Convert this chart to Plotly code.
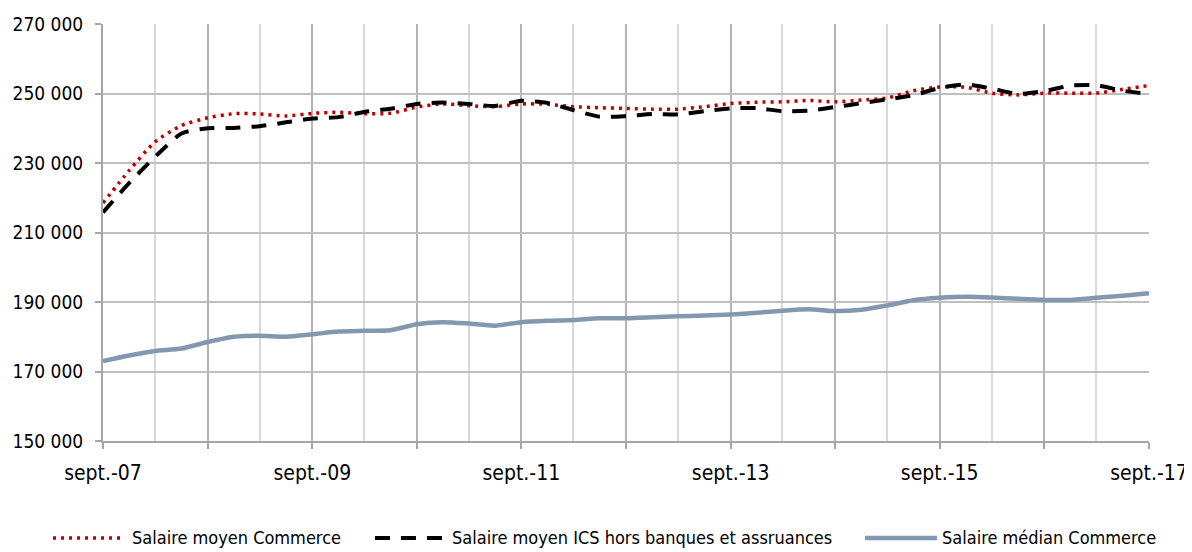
import plotly.graph_objects as go

# Quarterly dates, sept-07 .. sept-17
dates = [f"{2007 + (8 + 3 * k) // 12}-{(8 + 3 * k) % 12 + 1:02d}-01" for k in range(41)]

salaire_moyen_commerce = [
    218500, 227800, 236100, 240800, 243000, 244200, 244100, 243500, 244300, 244600,
    244200, 244300, 246100, 247000, 246500, 246200, 247000, 246900, 246200, 245900,
    245700, 245500, 245500, 246200, 247100, 247500, 247600, 248000, 247600, 248100,
    248700, 250800, 251900, 251800, 250100, 249600, 250100, 250100, 250100, 251200,
    252300,
]
salaire_moyen_ics = [
    215800, 224200, 231800, 238500, 240000, 240100, 240600, 241700, 242800, 243200,
    244700, 245600, 247000, 247400, 247000, 246400, 247900, 247300, 245200, 243300,
    243500, 244100, 244000, 244900, 245700, 245800, 244900, 245100, 246100, 247200,
    248300, 249500, 251600, 252600, 251400, 249900, 250700, 252300, 252400, 250800,
    249900,
]
salaire_median_commerce = [
    173000, 174600, 175900, 176600, 178500, 180000, 180300, 180000, 180700, 181500,
    181700, 181900, 183600, 184200, 183800, 183200, 184200, 184600, 184800, 185300,
    185300, 185600, 185900, 186100, 186400, 186900, 187500, 187900, 187400, 187800,
    189000, 190500, 191200, 191500, 191300, 190900, 190600, 190600, 191200, 191800,
    192500,
]

series_names = [
    "Salaire moyen Commerce",
    "Salaire moyen ICS hors banques et assruances",
    "Salaire médian Commerce",
]
series_values = [salaire_moyen_commerce, salaire_moyen_ics, salaire_median_commerce]
series_colors = ["#C00000", "#000000", "#8497B0"]
series_widths = [3.5, 4, 4.5]
series_dash = ["3px,5px", "15px,11px", "solid"]

FONT = "DejaVu Sans Condensed, DejaVu Sans, sans-serif"

fig = go.Figure()
for name, vals, col, w, d in zip(series_names, series_values, series_colors, series_widths, series_dash):
    fig.add_trace(go.Scatter(
        x=dates, y=vals, name=name, mode="lines",
        line=dict(color=col, width=w, dash=d, shape="spline", smoothing=0.6),
        showlegend=False,
    ))

# Legend drawn at the bottom (sample line + label)
legend_x0 = [-0.0478, 0.2600, 0.7285]
legend_x1 = [0.0182, 0.3289, 0.7973]
legend_tx = [0.0258, 0.3317, 0.8002]
legend_y = -0.2326
for name, col, w, d, x0, x1, tx in zip(series_names, series_colors, series_widths, series_dash,
                                      legend_x0, legend_x1, legend_tx):
    fig.add_shape(type="line", xref="paper", yref="paper", x0=x0, x1=x1, y0=legend_y, y1=legend_y,
                  line=dict(color=col, width=w, dash=d))
    fig.add_annotation(xref="paper", yref="paper", x=tx, y=legend_y, text=name, showarrow=False,
                       xanchor="left", yanchor="middle", font=dict(family=FONT, size=18, color="#000000"))

fig.update_layout(
    width=1184, height=544,
    margin=dict(l=95, r=43, t=16, b=111, autoexpand=False),
    paper_bgcolor="white", plot_bgcolor="white",
    separators=", ",
    font=dict(family=FONT, size=19, color="#000000"),
    showlegend=False,
)
fig.update_xaxes(
    type="date", automargin=False,
    range=[dates[0], dates[-1]],
    tick0=dates[0], dtick="M12", ticklabelstep=2,
    tickformat="sept.-%y",
    ticks="outside", ticklen=6, tickcolor="#A6A6A6", tickwidth=1.5,
    showgrid=True, gridcolor="#B4B4B4", gridwidth=1.5,
    minor=dict(dtick="M6", tick0=dates[0], showgrid=True, gridcolor="#D9D9D9", gridwidth=1.5),
    showline=True, linecolor="#A6A6A6", linewidth=2,
    zeroline=False,
    tickfont=dict(family=FONT, size=21),
    ticklabelstandoff=6,
)
fig.update_yaxes(
    automargin=False,
    range=[150000, 270000], dtick=20000, tick0=150000,
    tickformat=",.0f",
    ticks="outside", ticklen=6, tickcolor="#A6A6A6", tickwidth=1.5,
    showgrid=True, gridcolor="#BFBFBF", gridwidth=1.5,
    showline=True, linecolor="#A6A6A6", linewidth=2,
    zeroline=False,
    tickfont=dict(family=FONT, size=19),
    ticklabelstandoff=8,
)
fig.write_html("out.html")
